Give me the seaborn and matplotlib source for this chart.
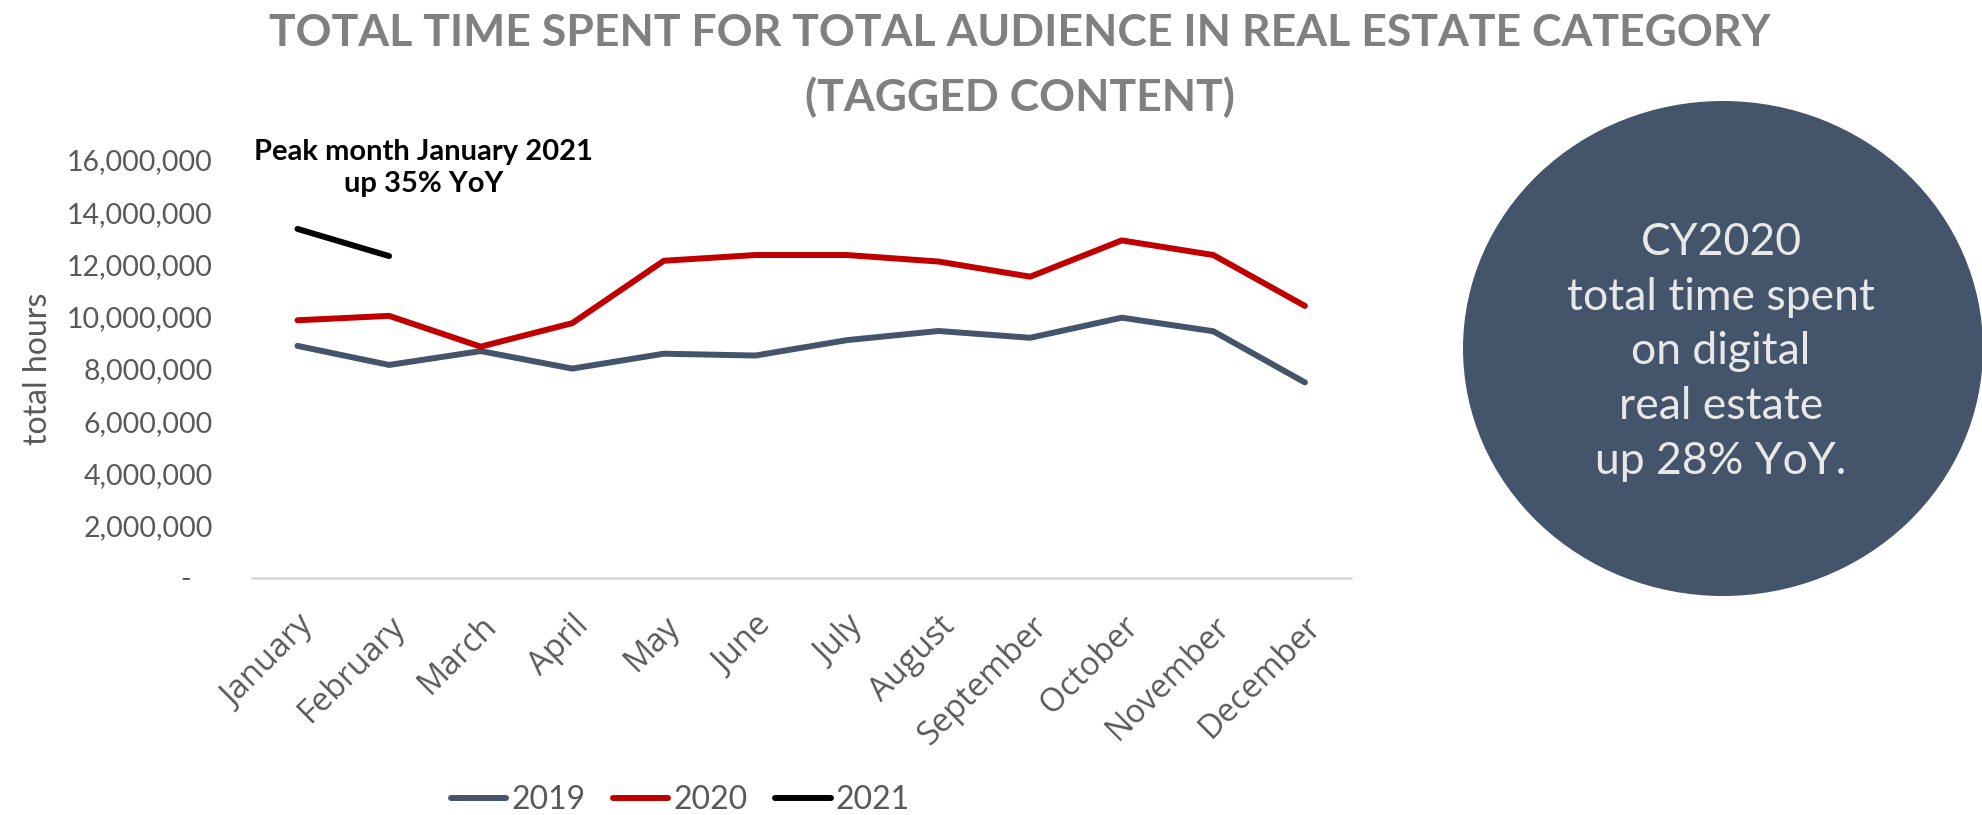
import numpy as np
import pandas as pd
import matplotlib
matplotlib.use("Agg")
import matplotlib.pyplot as plt
from matplotlib.patches import Ellipse
from matplotlib.ticker import FixedLocator, FuncFormatter
import seaborn as sns

# ---------------- data ----------------
months = ["January", "February", "March", "April", "May", "June", "July",
          "August", "September", "October", "November", "December"]
hours_2019 = [8_880_000, 8_150_000, 8_680_000, 8_010_000, 8_580_000, 8_510_000,
              9_100_000, 9_450_000, 9_190_000, 9_960_000, 9_440_000, 7_480_000]
hours_2020 = [9_860_000, 10_030_000, 8_850_000, 9_750_000, 12_140_000, 12_360_000,
              12_360_000, 12_110_000, 11_530_000, 12_920_000, 12_360_000, 10_410_000]
hours_2021 = [13_360_000, 12_320_000]
years = ["2019", "2020", "2021"]
y_ticks = [0, 2_000_000, 4_000_000, 6_000_000, 8_000_000, 10_000_000,
           12_000_000, 14_000_000, 16_000_000]

title_lines = ["TOTAL TIME SPENT FOR TOTAL AUDIENCE IN REAL ESTATE CATEGORY",
               "(TAGGED CONTENT)"]
annotation = "Peak month January 2021\nup 35% YoY"
bubble_text = "CY2020\ntotal time spent\non digital\nreal estate\nup 28% YoY."
y_label = "total hours"

colors = {"2019": "#44546A", "2020": "#C00000", "2021": "#000000"}

# ---------------- long table ----------------
rows = []
for yr, vals in zip(years, [hours_2019, hours_2020, hours_2021]):
    for i, v in enumerate(vals):
        rows.append({"month_idx": i, "month": months[i], "year": yr, "hours": v})
df = pd.DataFrame(rows)

sns.set_theme(style="white")
plt.rcParams["font.family"] = ["Lato", "DejaVu Sans"]

W, H = 1982, 815
fig = plt.figure(figsize=(W / 100, H / 100), dpi=100)

ax_left, ax_right = 251.7 / W, 1350.7 / W
ax_bottom = 1 - 577.7 / H
ax_top = 1 - 160 / H
ax = fig.add_axes([ax_left, ax_bottom, ax_right - ax_left, ax_top - ax_bottom])

sns.lineplot(data=df, x="month_idx", y="hours", hue="year", palette=colors,
             hue_order=years, estimator=None, sort=False, linewidth=4.3,
             ax=ax, legend=True)
for ln in ax.get_lines():
    ln.set_solid_capstyle("round")
    ln.set_solid_joinstyle("round")

ax.set_xlim(-0.5, len(months) - 0.5)
ax.set_ylim(0, 16_000_000)

ax.xaxis.set_major_locator(FixedLocator(range(len(months))))
ax.set_xticklabels(months, rotation=45, ha="right", rotation_mode="anchor",
                   fontsize=23.5, color="#595959", family=["Open Sans", "DejaVu Sans"])
ax.yaxis.set_major_locator(FixedLocator(y_ticks))
ax.yaxis.set_major_formatter(FuncFormatter(lambda v, p: "-   " if v == 0 else f"{v:,.0f}"))
ax.tick_params(axis="y", length=0, pad=28, labelsize=20.5, labelcolor="#595959")
ax.tick_params(axis="x", length=0, pad=23)

for s in ["top", "right", "left"]:
    ax.spines[s].set_visible(False)
ax.spines["bottom"].set_color("#D9D9D9")
ax.spines["bottom"].set_linewidth(1.8)
ax.grid(False)
ax.set_xlabel("")
ax.set_ylabel(y_label, fontsize=23, color="#595959")
ax.yaxis.set_label_coords((53 - 251.7) / 1099, 0.5)

# legend
handles, labels = ax.get_legend_handles_labels()
ax.get_legend().remove()
for h in handles:
    h.set_linewidth(4.3)
    h.set_solid_capstyle("round")
leg = fig.legend(handles, labels, loc="center", bbox_to_anchor=(680 / W, 1 - 800 / H),
                 ncol=3, frameon=False, fontsize=23, handlelength=1.75,
                 handletextpad=0.15, columnspacing=0.85, borderpad=0)
for t in leg.get_texts():
    t.set_color("#595959")

# title
fig.text(1020 / W, 1 - 33 / H, title_lines[0], ha="center", va="center",
         fontsize=32, fontweight="bold", color="#808080")
fig.text(1020 / W, 1 - 97 / H, title_lines[1], ha="center", va="center",
         fontsize=32, fontweight="bold", color="#808080")

# annotation
fig.text(424 / W, 1 - 168 / H, annotation, ha="center", va="center",
         fontsize=21, fontweight="bold", color="black", linespacing=1.25)

# bubble
ell = Ellipse((1723 / W, 1 - 348.5 / H), 520 / W, 495 / H,
              transform=fig.transFigure, facecolor="#44546A", edgecolor="none")
fig.patches.append(ell)
fig.text(1721 / W, 1 - 352 / H, bubble_text, ha="center", va="center",
         fontsize=32, fontweight="normal", color="#E8E8E8", linespacing=1.42)

fig.savefig("out.png", dpi=100)
